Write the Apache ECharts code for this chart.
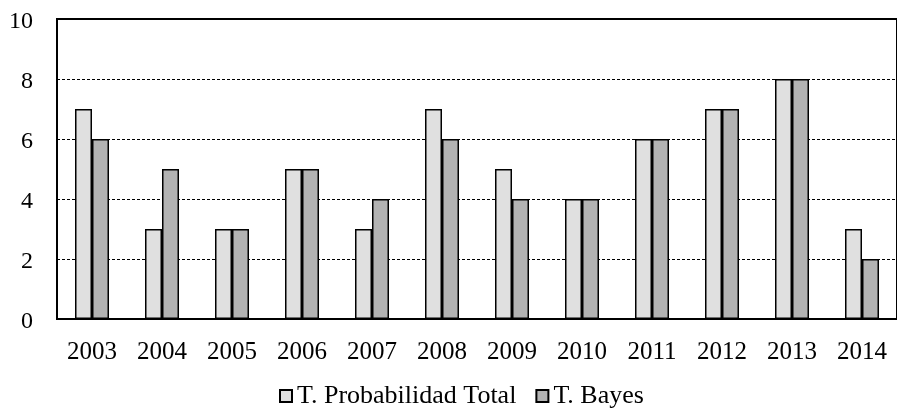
<!DOCTYPE html>
<html>
<head>
<meta charset="utf-8">
<script src="https://cdn.jsdelivr.net/npm/echarts@6/dist/echarts.min.js"></script>
<style>
  html, body { margin: 0; padding: 0; background: #fff; }
  #chart { width: 897px; height: 409px; }
</style>
</head>
<body>
<div id="chart"></div>
<script>
// Datos
const anios = ['2003', '2004', '2005', '2006', '2007', '2008', '2009', '2010', '2011', '2012', '2013', '2014'];
const probTotal = [7, 3, 3, 5, 3, 7, 5, 4, 6, 7, 8, 3];
const bayes = [6, 5, 3, 5, 4, 6, 4, 4, 6, 7, 8, 2];
const nombres = ['T. Probabilidad Total', 'T. Bayes'];

const fuente = '"Liberation Serif", "Times New Roman", serif';

const chart = echarts.init(document.getElementById('chart'), null, { renderer: 'canvas' });

chart.setOption({
  animation: false,
  grid: {
    left: 57,
    top: 19,
    width: 849,
    height: 300,
    show: true,
    borderColor: '#000',
    borderWidth: 2
  },
  legend: {
    data: nombres,
    left: 279,
    top: 383,
    padding: 0,
    itemWidth: 12,
    itemHeight: 12,
    itemGap: 19,
    icon: 'rect',
    textStyle: { fontFamily: fuente, fontSize: 26, color: '#000' }
  },
  xAxis: {
    type: 'category',
    data: anios,
    axisLine: { lineStyle: { color: '#000', width: 2 } },
    axisTick: { show: false },
    axisLabel: { fontFamily: fuente, fontSize: 25, color: '#000', margin: 21 }
  },
  yAxis: {
    type: 'value',
    min: 0,
    max: 10,
    interval: 2,
    axisLine: { show: true, lineStyle: { color: '#000', width: 2 } },
    axisTick: { show: false },
    axisLabel: {
      fontFamily: fuente, fontSize: 24, color: '#000', margin: 24,
      verticalAlign: 'top', lineHeight: 6
    },
    splitLine: { lineStyle: { color: '#000', width: 1, type: [3, 2] } }
  },
  series: [
    {
      name: nombres[0],
      type: 'bar',
      data: probTotal,
      barWidth: 17,
      barGap: '0%',
      itemStyle: { color: '#e0e0e0', borderColor: '#000', borderWidth: 1.5 }
    },
    {
      name: nombres[1],
      type: 'bar',
      data: bayes,
      barWidth: 17,
      itemStyle: { color: '#b3b3b3', borderColor: '#000', borderWidth: 1.5 }
    }
  ]
});
</script>
</body>
</html>
